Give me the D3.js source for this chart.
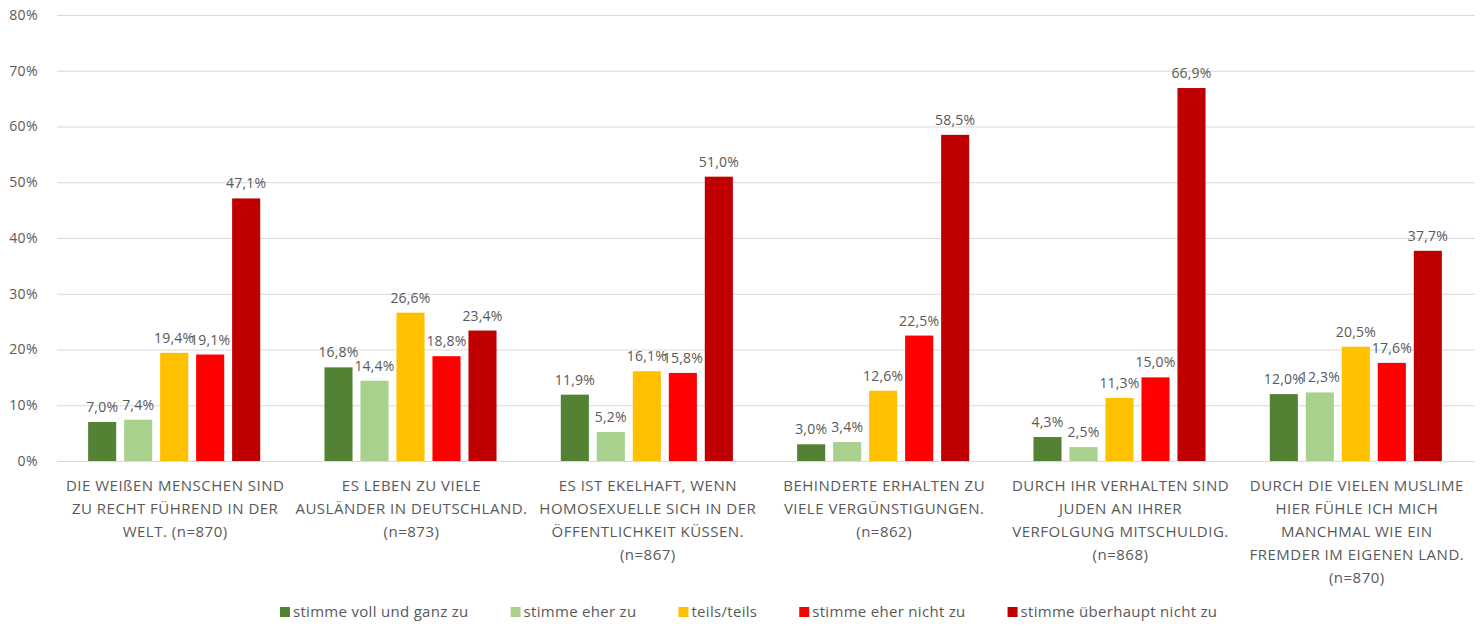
<!DOCTYPE html>
<html><head><meta charset="utf-8">
<script src="https://cdn.jsdelivr.net/npm/d3@7"></script>
<style>body{margin:0;background:#fff;} svg{display:block;} text{font-family:"Open Sans",sans-serif;}</style>
</head><body>
<svg id="chart" width="1483" height="626"></svg>
<script>
const categories = ["g1","g2","g3","g4","g5","g6"];
const categoryLines = [
  ["DIE WEIßEN MENSCHEN SIND","ZU RECHT FÜHREND IN DER","WELT. (n=870)"],
  ["ES LEBEN ZU VIELE","AUSLÄNDER IN DEUTSCHLAND.","(n=873)"],
  ["ES IST EKELHAFT, WENN","HOMOSEXUELLE SICH IN DER","ÖFFENTLICHKEIT KÜSSEN.","(n=867)"],
  ["BEHINDERTE ERHALTEN ZU","VIELE VERGÜNSTIGUNGEN.","(n=862)"],
  ["DURCH IHR VERHALTEN SIND","JUDEN AN IHRER","VERFOLGUNG MITSCHULDIG.","(n=868)"],
  ["DURCH DIE VIELEN MUSLIME","HIER FÜHLE ICH MICH","MANCHMAL WIE EIN","FREMDER IM EIGENEN LAND.","(n=870)"]
];
const seriesNames = ["stimme voll und ganz zu","stimme eher zu","teils/teils","stimme eher nicht zu","stimme überhaupt nicht zu"];
const seriesColors = ["#548235","#A9D18E","#FFC000","#FF0000","#C00000"];
const vollUndGanz = [7.0,16.8,11.9,3.0,4.3,12.0];
const eherZu = [7.4,14.4,5.2,3.4,2.5,12.3];
const teilsTeils = [19.4,26.6,16.1,12.6,11.3,20.5];
const eherNicht = [19.1,18.8,15.8,22.5,15.0,17.6];
const ueberhauptNicht = [47.1,23.4,51.0,58.5,66.9,37.7];
const seriesValues = [vollUndGanz, eherZu, teilsTeils, eherNicht, ueberhauptNicht];
const yTicks = [0,10,20,30,40,50,60,70,80];

const svg = d3.select("#chart");
const mLeft = 57, mRight = 1475, mTop = 15, mBottom = 461;
const x0 = d3.scaleBand().domain(categories).range([mLeft, mRight]).padding(0);
const bw = x0.bandwidth();
const x1 = d3.scaleBand().domain(d3.range(5)).range([(bw-180)/2 - 1, (bw+180)/2 - 1]).paddingInner(0.22).paddingOuter(0.11);
const y = d3.scaleLinear().domain([0,80]).range([mBottom, mTop]);

const gridColor = "#d9d9d9", textColor = "#595959";
const yAxis = d3.axisLeft(y).tickValues(yTicks).tickSize(-(mRight-mLeft)).tickFormat(d => d + "%");
const ga = svg.append("g").attr("transform", `translate(${mLeft},0)`).call(yAxis);
ga.select(".domain").remove();
ga.selectAll(".tick line").attr("stroke", gridColor).attr("stroke-width", 1);
ga.selectAll(".tick text").attr("x", -19).attr("fill", textColor).attr("font-size", 14)
  .attr("letter-spacing", 0.4).attr("font-family","Open Sans");

const fmt = v => v.toFixed(1).replace(".", ",") + "%";
seriesValues.forEach((vals, si) => {
  const g = svg.append("g");
  g.selectAll("rect").data(vals).join("rect")
    .attr("x", (d,i) => x0(categories[i]) + x1(si))
    .attr("y", d => y(d))
    .attr("width", x1.bandwidth())
    .attr("height", d => y(0) - y(d))
    .attr("fill", seriesColors[si]);
  g.selectAll("text").data(vals).join("text")
    .attr("x", (d,i) => x0(categories[i]) + x1(si) + x1.bandwidth()/2)
    .attr("y", d => y(d) - 10)
    .attr("text-anchor", "middle")
    .attr("fill", textColor).attr("font-size", 14).attr("letter-spacing", 0.2)
    .text(fmt);
});

categoryLines.forEach((lines, i) => {
  const cx = x0(categories[i]) + bw/2;
  const t = svg.append("text")
    .attr("x", cx).attr("y", 490.5)
    .attr("text-anchor","middle").attr("fill", textColor).attr("font-size", 15).attr("letter-spacing", 0.5);
  lines.forEach((l, j) => t.append("tspan").attr("x", cx).attr("dy", j ? 23 : 0).text(l));
});

const lg = svg.append("g");
let lx = 280;
seriesNames.forEach((n, i) => {
  lg.append("rect").attr("x", lx).attr("y", 607).attr("width", 10).attr("height", 10).attr("fill", seriesColors[i]);
  const t = lg.append("text").attr("x", lx + 13).attr("y", 617).attr("fill", textColor)
    .attr("font-size", 15).attr("letter-spacing", 0.3).text(n);
  lx += 13 + t.node().getComputedTextLength() + 42;
});
</script>
</body></html>
